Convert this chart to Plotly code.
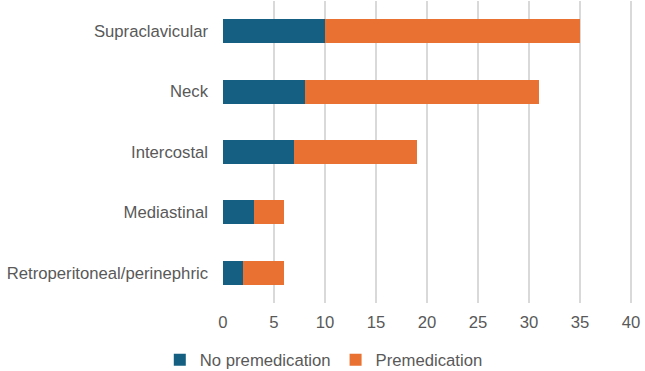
import plotly.graph_objects as go

categories = ["Supraclavicular", "Neck", "Intercostal", "Mediastinal", "Retroperitoneal/perinephric"]
no_premed = [10, 8, 7, 3, 2]
premed = [25, 23, 12, 3, 4]
x_ticks = [0, 5, 10, 15, 20, 25, 30, 35, 40]

BLUE = "#156082"
ORANGE = "#E97132"
TEXT = "#595959"
FONT = "Liberation Sans, Arial, sans-serif"

fig = go.Figure()
fig.add_trace(go.Bar(y=categories, x=no_premed, orientation="h", name="No premedication",
                     marker=dict(color=BLUE, line=dict(width=0))))
fig.add_trace(go.Bar(y=categories, x=premed, orientation="h", name="Premedication",
                     marker=dict(color=ORANGE, line=dict(width=0))))

fig.update_layout(
    barmode="stack",
    bargap=0.6,
    width=645, height=371,
    margin=dict(l=223, r=11, t=1, b=68),
    plot_bgcolor="white", paper_bgcolor="white",
    font=dict(family=FONT, size=16.7, color=TEXT),
    showlegend=True,
    legend=dict(orientation="h", xref="container", yref="container", x=0.502, xanchor="center",
                y=0.03, yanchor="middle", font=dict(size=16.7, color=TEXT),
                itemwidth=30, traceorder="normal", itemclick=False),
    xaxis=dict(range=[0, 40.3], tickvals=x_ticks, showgrid=True, gridcolor="#d9d9d9", gridwidth=2,
               zeroline=False, showline=False, ticks="", ticklabelstandoff=7,
               tickfont=dict(size=16.7, color=TEXT)),
    yaxis=dict(autorange="reversed", showgrid=False, zeroline=False, showline=False, ticks="",
               ticklabelstandoff=14, tickfont=dict(size=16.7, color=TEXT)),
)

fig.write_html("out.html")
